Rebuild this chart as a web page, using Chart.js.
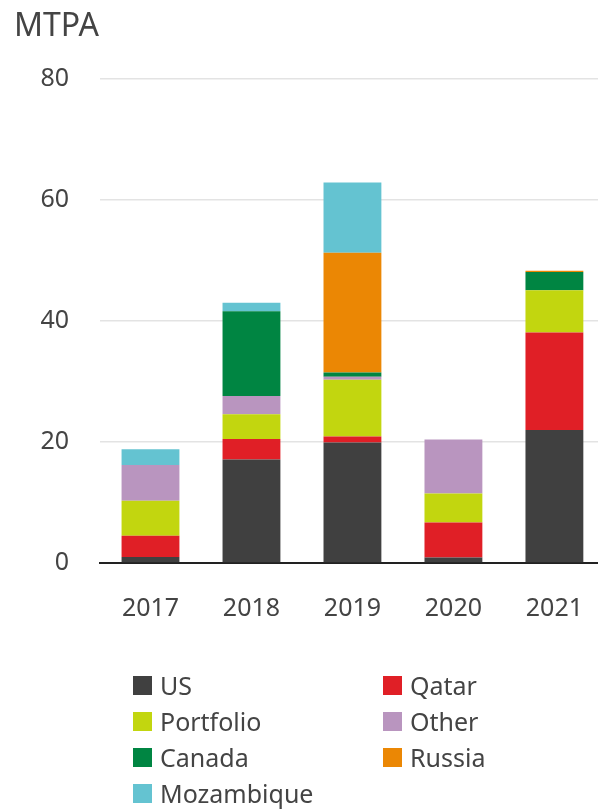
<!DOCTYPE html>
<html>
<head>
<meta charset="utf-8">
<script src="https://cdn.jsdelivr.net/npm/chart.js@4.4.1/dist/chart.umd.min.js"></script>
<style>
  html, body { margin: 0; padding: 0; background: #fff; overflow: hidden; }
  body { width: 598px; height: 810px; position: relative; font-family: "Noto Sans", sans-serif; color: #444; }
  #wrap { position: absolute; left: 0; top: 0; width: 614px; height: 640px; }
  #unit { position: absolute; left: 14px; top: 2px; font-size: 32px; color: #444; }
  #legend { position: absolute; left: 0; top: 0; width: 598px; height: 810px; pointer-events: none; }
  .item { position: absolute; display: flex; align-items: center; font-size: 25px; color: #444; }
  .item span.box { width: 19px; height: 19px; margin-right: 8px; display: inline-block; }
</style>
</head>
<body>
<div id="wrap"><canvas id="lngChart"></canvas></div>
<div id="unit">MTPA</div>
<div id="legend"></div>
<script>
// Years on the x axis
const years = ['2017', '2018', '2019', '2020', '2021'];

// Volumes per source, MTPA
const us         = [1.0, 17.1, 19.9, 0.9, 22.0];
const qatar      = [3.5, 3.4, 1.0, 5.8, 16.1];
const portfolio  = [5.8, 4.1, 9.4, 4.8, 7.0];
const other      = [5.9, 3.0, 0.5, 8.9, 0];
const canada     = [0, 14.0, 0.7, 0, 3.0];
const russia     = [0, 0, 19.8, 0, 0.2];
const mozambique = [2.6, 1.4, 11.6, 0, 0];

const yTicks = [0, 20, 40, 60, 80];

const series = [
    { label: 'US',         data: us,         color: '#404040' },
    { label: 'Qatar',      data: qatar,      color: '#e01f26' },
    { label: 'Portfolio',  data: portfolio,  color: '#c2d60f' },
    { label: 'Other',      data: other,      color: '#b995bf' },
    { label: 'Canada',     data: canada,     color: '#008542' },
    { label: 'Russia',     data: russia,     color: '#eb8704' },
    { label: 'Mozambique', data: mozambique, color: '#64c3d1' }
];

const ctx = document.getElementById('lngChart').getContext('2d');
const lngChart = new Chart(ctx, {
    type: 'bar',
    data: {
        labels: years,
        datasets: series.map(s => ({
            label: s.label,
            data: s.data,
            backgroundColor: s.color,
            borderWidth: 0,
            barPercentage: 0.573,
            categoryPercentage: 1
        }))
    },
    options: {
        responsive: true,
        maintainAspectRatio: false,
        animation: false,
        layout: { padding: { top: 79, left: 0, right: 0, bottom: 0 } },
        plugins: {
            legend: { display: false },
            tooltip: { enabled: false }
        },
        scales: {
            x: {
                stacked: true,
                grid: { display: false, drawTicks: false },
                border: { display: true, color: '#222', width: 2 },
                ticks: {
                    padding: 31,
                    color: '#444',
                    font: { family: 'Noto Sans', size: 25 }
                },
                afterFit: (scale) => { scale.height = 77; }
            },
            y: {
                stacked: true,
                min: 0,
                max: 80,
                afterBuildTicks: (scale) => { scale.ticks = yTicks.map(v => ({ value: v })); },
                grid: { color: '#e3e3e3', lineWidth: 1.5, drawTicks: false },
                border: { display: false },
                ticks: {
                    padding: 31,
                    color: '#444',
                    font: { family: 'Noto Sans', size: 25 }
                },
                afterFit: (scale) => { scale.width = 100; }
            }
        }
    }
});

// Two-column legend under the chart
const legend = document.getElementById('legend');
series.forEach((s, i) => {
    const row = Math.floor(i / 2), col = i % 2;
    const el = document.createElement('div');
    el.className = 'item';
    el.style.left = (133 + col * 250) + 'px';
    el.style.top = (668 + row * 36) + 'px';
    el.innerHTML = '<span class="box" style="background:' + s.color + '"></span>' + s.label;
    legend.appendChild(el);
});
</script>
</body>
</html>
